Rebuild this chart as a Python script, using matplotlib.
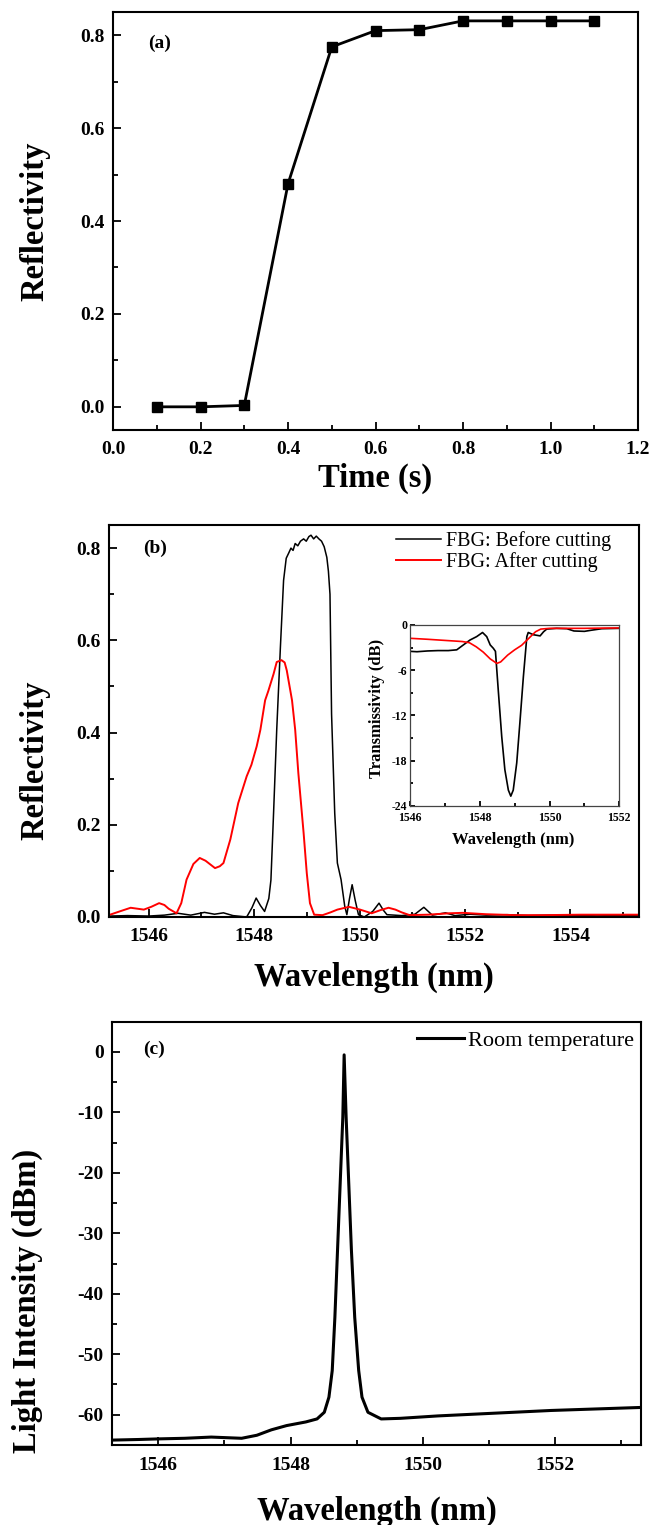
"""Three-panel FBG figure: reflectivity growth, reflection spectra and laser output."""
import matplotlib.pyplot as plt
from matplotlib.ticker import MultipleLocator, ScalarFormatter

plt.rcParams["font.family"] = ["Liberation Serif", "DejaVu Serif"]
plt.rcParams["font.weight"] = "bold"
plt.rcParams["axes.unicode_minus"] = False

# (a) reflectivity vs time
time_s = [0.1, 0.2, 0.3, 0.4, 0.5, 0.6, 0.7, 0.8, 0.9, 1.0, 1.1]
reflect_a = [0.0, 0.0, 0.003, 0.48, 0.775, 0.81, 0.812, 0.831, 0.831, 0.831, 0.831]

# (b) reflection spectra
before_wl = [1545.27, 1545.6, 1546.0, 1546.3, 1546.56, 1546.8, 1547.06, 1547.25, 1547.42,
             1547.6, 1547.86, 1547.96, 1548.04, 1548.12, 1548.2, 1548.28, 1548.32, 1548.37,
             1548.43, 1548.5, 1548.56, 1548.61, 1548.66, 1548.7, 1548.74, 1548.78, 1548.83,
             1548.88, 1548.94, 1548.99, 1549.04, 1549.08, 1549.13, 1549.18, 1549.23, 1549.28,
             1549.33, 1549.38, 1549.41, 1549.44, 1549.47, 1549.53, 1549.58, 1549.65, 1549.72,
             1549.76, 1549.81, 1549.86, 1549.92, 1549.98, 1550.09, 1550.25, 1550.37, 1550.45,
             1550.52, 1550.8, 1551.05, 1551.22, 1551.38, 1551.63, 1551.81, 1552.1, 1552.4,
             1552.8, 1553.2, 1553.6, 1554.0, 1554.5, 1555.3]
before_r = [0.002, 0.003, 0.002, 0.004, 0.008, 0.004, 0.01, 0.006, 0.009,
            0.003, 0.0, 0.02, 0.041, 0.025, 0.012, 0.04, 0.08, 0.225,
            0.406, 0.586, 0.73, 0.778, 0.79, 0.80, 0.795, 0.81, 0.805,
            0.815, 0.82, 0.815, 0.825, 0.828, 0.82, 0.826, 0.82, 0.815,
            0.803, 0.78, 0.75, 0.70, 0.44, 0.225, 0.117, 0.081, 0.023,
            0.005, 0.04, 0.07, 0.035, 0.005, 0.0, 0.012, 0.03, 0.015,
            0.005, 0.003, 0.006, 0.021, 0.004, 0.009, 0.003, 0.006, 0.004,
            0.005, 0.003, 0.004, 0.003, 0.004, 0.003]
after_wl = [1545.27, 1545.45, 1545.66, 1545.91, 1546.05, 1546.2, 1546.3, 1546.38, 1546.53,
            1546.62, 1546.72, 1546.85, 1546.97, 1547.08, 1547.26, 1547.35, 1547.42, 1547.55,
            1547.7, 1547.86, 1547.95, 1548.05, 1548.12, 1548.21, 1548.27, 1548.37, 1548.43,
            1548.52, 1548.58, 1548.62, 1548.72, 1548.78, 1548.84, 1548.94, 1549.0, 1549.06,
            1549.14, 1549.3, 1549.45, 1549.58, 1549.8, 1550.01, 1550.23, 1550.4, 1550.55,
            1550.68, 1550.8, 1550.95, 1551.3, 1551.7, 1551.96, 1552.4, 1552.96, 1553.5,
            1554.2, 1555.3]
after_r = [0.005, 0.012, 0.02, 0.016, 0.022, 0.03, 0.026, 0.018, 0.008,
           0.03, 0.081, 0.115, 0.128, 0.122, 0.106, 0.11, 0.117, 0.168,
           0.247, 0.305, 0.33, 0.37, 0.406, 0.47, 0.49, 0.527, 0.553,
           0.557, 0.552, 0.535, 0.47, 0.406, 0.312, 0.182, 0.095, 0.03,
           0.005, 0.004, 0.01, 0.016, 0.022, 0.016, 0.008, 0.015, 0.02,
           0.016, 0.01, 0.004, 0.005, 0.008, 0.009, 0.006, 0.004, 0.004,
           0.005, 0.005]

# (b) inset: transmission spectra
inset_before_wl = [1546.0, 1546.2, 1546.5, 1546.8, 1547.1, 1547.34, 1547.53, 1547.72, 1547.91,
                   1548.08, 1548.2, 1548.3, 1548.39, 1548.45, 1548.53, 1548.63, 1548.72, 1548.82,
                   1548.89, 1548.96, 1549.06, 1549.15, 1549.25, 1549.35, 1549.39, 1549.54, 1549.73,
                   1549.83, 1549.92, 1550.2, 1550.5, 1550.7, 1551.0, 1551.2, 1551.5, 1552.0]
inset_before_db = [-3.5, -3.55, -3.45, -3.4, -3.4, -3.3, -2.65, -2.0, -1.55,
                   -1.0, -1.55, -2.65, -3.1, -3.5, -8.6, -14.8, -19.2, -21.9,
                   -22.7, -21.9, -18.3, -13.0, -6.9, -1.55, -1.0, -1.3, -1.45,
                   -0.9, -0.55, -0.45, -0.5, -0.8, -0.85, -0.7, -0.5, -0.45]
inset_after_wl = [1546.0, 1546.5, 1547.0, 1547.5, 1547.7, 1547.9, 1548.1, 1548.3, 1548.49,
                  1548.6, 1548.8, 1549.0, 1549.2, 1549.4, 1549.6, 1549.75, 1550.0, 1550.5,
                  1551.0, 1551.5, 1552.0]
inset_after_db = [-1.77, -1.9, -2.05, -2.2, -2.35, -2.9, -3.6, -4.5, -5.1,
                  -4.9, -4.0, -3.3, -2.7, -1.8, -0.9, -0.55, -0.45, -0.45,
                  -0.45, -0.42, -0.4]

# (c) laser output spectrum
laser_wl = [1545.3, 1545.7, 1546.0, 1546.4, 1546.8, 1547.26, 1547.49, 1547.71, 1547.94,
            1548.23, 1548.4, 1548.51, 1548.58, 1548.63, 1548.67, 1548.71, 1548.75, 1548.79,
            1548.81, 1548.84, 1548.88, 1548.92, 1548.97, 1549.03, 1549.08, 1549.17, 1549.37,
            1549.66, 1550.23, 1550.8, 1551.94, 1553.3]
laser_dbm = [-64.2, -64.1, -64.0, -63.9, -63.7, -63.9, -63.4, -62.5, -61.8,
             -61.2, -60.7, -59.6, -57.1, -52.7, -43.9, -32.8, -21.8, -10.8,
             -0.5, -10.8, -21.8, -32.8, -43.9, -52.7, -57.1, -59.6, -60.7,
             -60.6, -60.2, -59.9, -59.3, -58.8]

LABEL_SIZE = 23.5
TICK_SIZE = 14


def style_axes(ax, tick_size=TICK_SIZE, spine_w=1.5, major=6, minor=3.5, pad=6):
    ax.tick_params(which="both", direction="in", top=False, right=False,
                   width=1.3, labelsize=tick_size, pad=pad)
    ax.tick_params(which="major", length=major)
    ax.tick_params(which="minor", length=minor)
    for sp in ax.spines.values():
        sp.set_linewidth(spine_w)
    ax.xaxis.set_major_formatter(ScalarFormatter(useOffset=False))


def place_labels(ax, xlabel, ylabel, xy_x, xy_y, size=LABEL_SIZE):
    ax.set_xlabel(xlabel, fontsize=size, fontweight="bold")
    ax.set_ylabel(ylabel, fontsize=size, fontweight="bold")
    ax.xaxis.set_label_coords(*xy_x)
    ax.yaxis.set_label_coords(*xy_y)
    ax.xaxis.label.set_verticalalignment("center")
    ax.yaxis.label.set_verticalalignment("center")


fig = plt.figure(figsize=(6.54, 15.25), dpi=100)
ax_a = fig.add_axes([0.1728, 0.7180, 0.8028, 0.2741])
ax_b = fig.add_axes([0.1667, 0.3987, 0.8104, 0.2570])
ax_in = fig.add_axes([0.6269, 0.4715, 0.3200, 0.1187])
ax_c = fig.add_axes([0.1713, 0.0525, 0.8089, 0.2776])

# (a)
ax_a.plot(time_s, reflect_a, color="black", lw=2.0, marker="s", ms=7)
ax_a.set_xlim(0.0, 1.2)
ax_a.set_ylim(-0.05, 0.85)
ax_a.xaxis.set_major_locator(MultipleLocator(0.2))
ax_a.xaxis.set_minor_locator(MultipleLocator(0.1))
ax_a.yaxis.set_major_locator(MultipleLocator(0.2))
ax_a.yaxis.set_minor_locator(MultipleLocator(0.1))
style_axes(ax_a)
ax_a.tick_params(axis="x", pad=8)
ax_a.xaxis.set_major_formatter(plt.FormatStrFormatter("%.1f"))
place_labels(ax_a, "Time (s)", "Reflectivity", (0.5, -0.115), (-0.149, 0.5))
ax_a.text(0.067, 0.926, "(a)", transform=ax_a.transAxes, fontsize=14,
          fontweight="bold", va="center", ha="left")

# (b)
ax_b.plot(before_wl, before_r, color="black", lw=1.1, label="FBG: Before cutting")
ax_b.plot(after_wl, after_r, color="red", lw=1.4, label="FBG: After cutting")
ax_b.set_xlim(1545.25, 1555.3)
ax_b.set_ylim(0.0, 0.85)
ax_b.xaxis.set_major_locator(MultipleLocator(2))
ax_b.xaxis.set_minor_locator(MultipleLocator(1))
ax_b.yaxis.set_major_locator(MultipleLocator(0.2))
ax_b.yaxis.set_minor_locator(MultipleLocator(0.1))
style_axes(ax_b)
ax_b.tick_params(axis="x", pad=8)
place_labels(ax_b, "Wavelength (nm)", "Reflectivity", (0.5, -0.153), (-0.14, 0.40))
ax_b.text(0.064, 0.941, "(b)", transform=ax_b.transAxes, fontsize=14,
          fontweight="bold", va="center", ha="left")
ax_b.legend(loc="upper right", bbox_to_anchor=(0.947, 0.985), frameon=False,
            prop={"size": 14.5, "weight": "normal"}, handlelength=2.2,
            handletextpad=0.25, labelspacing=0.05, borderaxespad=0, borderpad=0)

# (b) inset
ax_in.plot(inset_before_wl, inset_before_db, color="black", lw=1.2)
ax_in.plot(inset_after_wl, inset_after_db, color="red", lw=1.2)
ax_in.set_xlim(1546, 1552)
ax_in.set_ylim(-24, 0)
ax_in.xaxis.set_major_locator(MultipleLocator(2))
ax_in.xaxis.set_minor_locator(MultipleLocator(1))
ax_in.yaxis.set_major_locator(MultipleLocator(6))
ax_in.yaxis.set_minor_locator(MultipleLocator(3))
style_axes(ax_in, tick_size=8.5, spine_w=0.9, major=3.5, minor=2, pad=2)
ax_in.tick_params(axis="x", pad=4)
for sp in ax_in.spines.values():
    sp.set_color("#444444")
place_labels(ax_in, "Wavelength (nm)", "Transmissivity (dB)", (0.492, -0.19),
             (-0.159, 0.541), size=12)

# (c)
ax_c.plot(laser_wl, laser_dbm, color="black", lw=2.2, label="Room temperature")
ax_c.set_xlim(1545.3, 1553.3)
ax_c.set_ylim(-65, 5)
ax_c.xaxis.set_major_locator(MultipleLocator(2))
ax_c.xaxis.set_minor_locator(MultipleLocator(1))
ax_c.yaxis.set_major_locator(MultipleLocator(10))
ax_c.yaxis.set_minor_locator(MultipleLocator(5))
style_axes(ax_c)
ax_c.tick_params(axis="x", pad=9)
place_labels(ax_c, "Wavelength (nm)", "Light Intensity (dBm)", (0.5, -0.158), (-0.16, 0.34))
ax_c.text(0.059, 0.934, "(c)", transform=ax_c.transAxes, fontsize=14,
          fontweight="bold", va="center", ha="left")
ax_c.legend(loc="upper right", bbox_to_anchor=(0.987, 0.979), frameon=False,
            prop={"size": 16, "weight": "normal"}, handlelength=2.1,
            handletextpad=0.2, borderaxespad=0, borderpad=0)

fig.savefig("out.png", dpi=100)
print("Saved: out.png")
